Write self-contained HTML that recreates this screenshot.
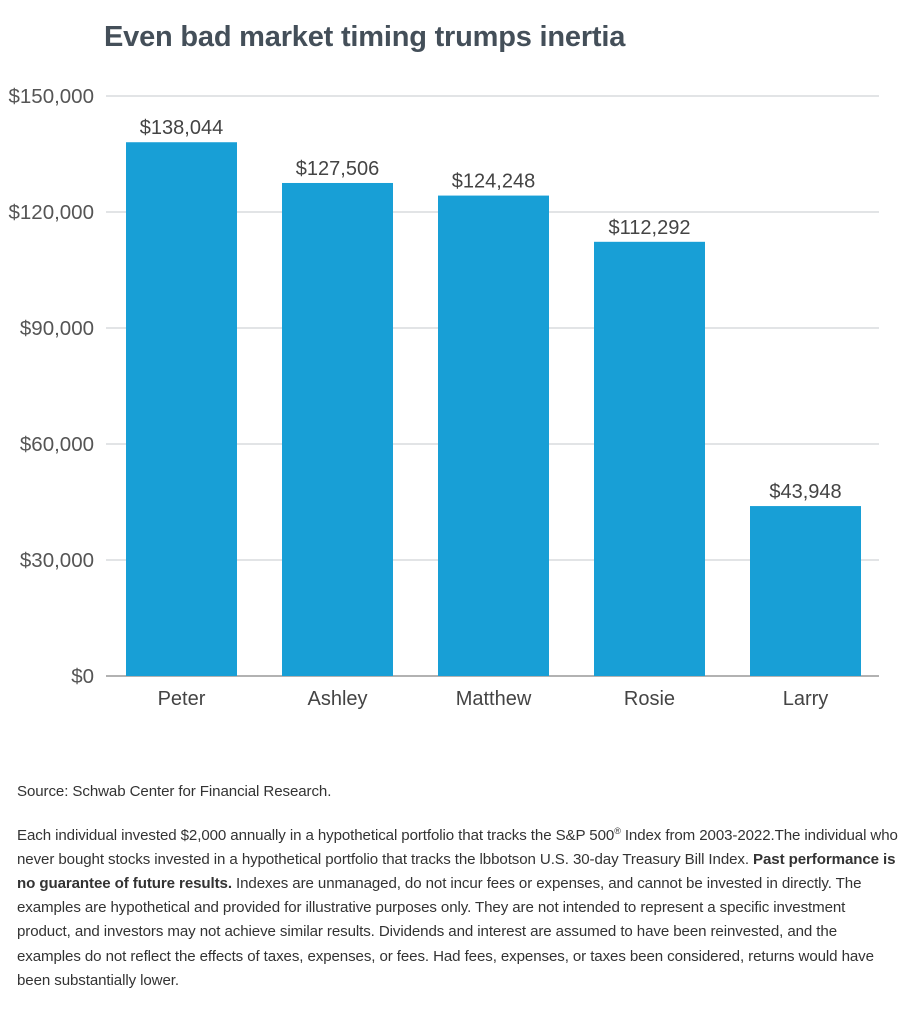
<!DOCTYPE html>
<html><head><meta charset="utf-8"><style>
html,body{margin:0;padding:0;background:#fff;width:915px;height:1016px;overflow:hidden;font-family:"Liberation Sans",sans-serif}
.t{position:absolute;left:17px;font-size:15.1px;color:#333;white-space:nowrap;letter-spacing:-0.1px}
</style></head><body>
<svg width="915" height="760" style="position:absolute;left:0;top:0" id="chart">
<text x="104" y="46" font-size="29" font-weight="bold" fill="#444f59" font-family="Liberation Sans, sans-serif" letter-spacing="-0.2">Even bad market timing trumps inertia</text>
</svg>
<div class="t" style="top:783px">Source: Schwab Center for Financial Research.</div>
<div class="t" style="top:819px;line-height:24.1px">Each individual invested $2,000 annually in a hypothetical portfolio that tracks the S&amp;P 500<sup style="font-size:9px">®</sup> Index from 2003-2022.The individual who<br>never bought stocks invested in a hypothetical portfolio that tracks the lbbotson U.S. 30-day Treasury Bill Index. <b>Past performance is</b><br><b>no guarantee of future results.</b> Indexes are unmanaged, do not incur fees or expenses, and cannot be invested in directly. The<br>examples are hypothetical and provided for illustrative purposes only. They are not intended to represent a specific investment<br>product, and investors may not achieve similar results. Dividends and interest are assumed to have been reinvested, and the<br>examples do not reflect the effects of taxes, expenses, or fees. Had fees, expenses, or taxes been considered, returns would have<br>been substantially lower.</div>
<script>
const categories=["Peter","Ashley","Matthew","Rosie","Larry"];
const values=[138044,127506,124248,112292,43948];
const valueLabels=["$138,044","$127,506","$124,248","$112,292","$43,948"];
const ticks=[0,30000,60000,90000,120000,150000];
const tickLabels=["$0","$30,000","$60,000","$90,000","$120,000","$150,000"];
const svg=document.getElementById('chart');const NS="http://www.w3.org/2000/svg";
const y0=676,y1=96,yMax=150000,x0=103.5,band=156,bw=111;
const y=v=>y0-(v/yMax)*(y0-y1);
const x=i=>x0+band*i+(band-bw)/2;
function mk(tag,at,txt){const e=document.createElementNS(NS,tag);for(const k in at)e.setAttribute(k,at[k]);if(txt!=null)e.textContent=txt;svg.appendChild(e);return e;}
ticks.forEach((t,i)=>{
 const l=mk('line',{x1:106,x2:879,y1:y(t),y2:y(t),stroke:i==0?'#999':'#c4c8cc','stroke-width':i==0?1.5:1});
 
 
 const tx=mk('text',{x:94,y:y(t)+7,'text-anchor':'end','font-size':20.5,fill:'#555'},tickLabels[i]);
 
 
});
values.forEach((v,i)=>{
 const r=mk('rect',{x:x(i),y:y(v),width:bw,height:y0-y(v),fill:'#189fd6'});
 
 
 const vl=mk('text',{x:x(i)+bw/2,y:y(v)-8,'text-anchor':'middle','font-size':20,fill:'#444'},valueLabels[i]);
 
 
 const cl=mk('text',{x:x(i)+bw/2,y:705,'text-anchor':'middle','font-size':20,fill:'#444'},categories[i]);
 
 
});
</script>
</body></html>
